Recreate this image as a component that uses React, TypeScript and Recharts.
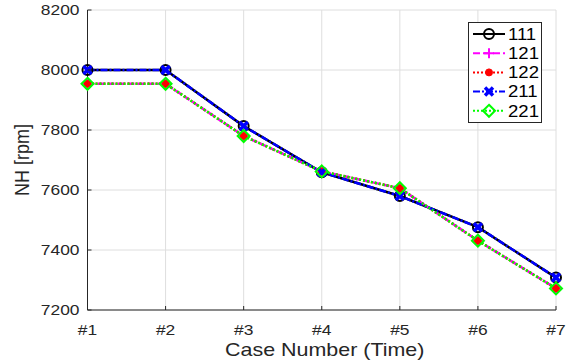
import { LineChart, Line, XAxis, YAxis, CartesianGrid, Label } from "recharts";

const cases = ["#1", "#2", "#3", "#4", "#5", "#6", "#7"];
const nh111 = [8000, 8000, 7813, 7659, 7580, 7476, 7308];
const nh121 = [7954, 7954, 7780, 7662, 7606, 7431, 7272];
const nh122 = [7954, 7954, 7780, 7662, 7606, 7431, 7272];
const nh211 = [8000, 8000, 7813, 7659, 7580, 7476, 7308];
const nh221 = [7954, 7954, 7780, 7662, 7606, 7431, 7272];
const yTicks = [7200, 7400, 7600, 7800, 8000, 8200];
const seriesNames = ["111", "121", "122", "211", "221"];

const data = cases.map((c, i) => ({
  case: c,
  s111: nh111[i],
  s121: nh121[i],
  s122: nh122[i],
  s211: nh211[i],
  s221: nh221[i],
}));

const FONT = "'Liberation Sans', Arial, Helvetica, sans-serif";
const TEXT = "#262626";
const SX = 1.16; // the source figure is stretched a bit horizontally

// line + marker look per series
const STYLE: Record<string, { color: string; dash?: string; marker: string }> = {
  "111": { color: "#000000", marker: "circle" },
  "121": { color: "#ff00ff", dash: "7 3", marker: "plus" },
  "122": { color: "#ff0000", dash: "2 2", marker: "dot" },
  "211": { color: "#0000ff", dash: "7 2 2 2", marker: "cross" },
  "221": { color: "#00ff00", dash: "2 2", marker: "diamond" },
};

function Marker({ kind, color, cx, cy }: { kind: string; color: string; cx: number; cy: number }) {
  if (kind === "circle")
    return <circle cx={cx} cy={cy} r={5} fill="none" stroke={color} strokeWidth={2} />;
  if (kind === "plus")
    return (
      <path d={`M${cx - 5},${cy}H${cx + 5}M${cx},${cy - 5}V${cy + 5}`} stroke={color} strokeWidth={2} />
    );
  if (kind === "dot") return <circle cx={cx} cy={cy} r={3.5} fill={color} stroke={color} />;
  if (kind === "cross")
    return (
      <path
        d={`M${cx - 4},${cy - 4}L${cx + 4},${cy + 4}M${cx - 4},${cy + 4}L${cx + 4},${cy - 4}`}
        stroke={color}
        strokeWidth={3.5}
      />
    );
  return (
    <path
      d={`M${cx},${cy - 6}L${cx + 6},${cy}L${cx},${cy + 6}L${cx - 6},${cy}Z`}
      fill="none"
      stroke={color}
      strokeWidth={2}
    />
  );
}

function YTick(props: any) {
  const { x, y, payload } = props;
  return (
    <g>
      <line x1={x + 8} x2={x + 12} y1={y} y2={y} stroke={TEXT} />
      <text
        transform={`translate(${x},${y}) scale(${SX},1)`}
        textAnchor="end"
        dy="0.36em"
        fontSize={15}
        fontFamily={FONT}
        fill={TEXT}
      >
        {payload.value}
      </text>
    </g>
  );
}

function XTick(props: any) {
  const { x, y, payload } = props;
  return (
    <g>
      <line x1={x} x2={x} y1={y - 25} y2={y - 29} stroke={TEXT} />
      <text
        transform={`translate(${x},${y}) scale(${SX},1)`}
        textAnchor="middle"
        fontSize={15}
        fontFamily={FONT}
        fill={TEXT}
      >
        {payload.value}
      </text>
    </g>
  );
}

function XLabel(props: any) {
  const { x, y, width } = props.viewBox;
  return (
    <text
      transform={`translate(${x + width / 2 + 3},${y + 46}) scale(${SX},1)`}
      textAnchor="middle"
      fontSize={18.5}
      fontFamily={FONT}
      fill={TEXT}
    >
      Case Number (Time)
    </text>
  );
}

function YLabel(props: any) {
  const { y, height } = props.viewBox;
  return (
    <text
      transform={`translate(29,${y + height / 2}) scale(${SX},1) rotate(-90)`}
      textAnchor="middle"
      fontSize={18}
      fontFamily={FONT}
      fill={TEXT}
    >
      NH [rpm]
    </text>
  );
}

function LegendBox() {
  return (
    <div
      style={{
        position: "absolute",
        left: 468,
        top: 22,
        width: 72,
        height: 99,
        border: "1px solid #262626",
        background: "#fff",
      }}
    >
      <svg width={72} height={99}>
        {seriesNames.map((name, i) => {
          const st = STYLE[name];
          const cy = 11 + i * 19.2;
          return (
            <g key={name}>
              <line x1={4} x2={36} y1={cy} y2={cy} stroke={st.color} strokeWidth={2} strokeDasharray={st.dash} />
              <Marker kind={st.marker} color={st.color} cx={20} cy={cy} />
              <text
                transform={`translate(39,${cy}) scale(${SX},1)`}
                dy="0.36em"
                fontSize={16}
                fontFamily={FONT}
                fill="#000"
              >
                {name}
              </text>
            </g>
          );
        })}
      </svg>
    </div>
  );
}

export default function App() {
  return (
    <div style={{ position: "relative", width: 571, height: 364, background: "#fff" }}>
      <style>{`body{margin:0}`}</style>
      <LineChart width={571} height={364} data={data} margin={{ top: 10, right: 15, left: 0, bottom: 0 }}>
        <CartesianGrid stroke="#dedede" />
        <XAxis
          dataKey="case"
          height={54}
          stroke={TEXT}
          tickLine={false}
          tickSize={0}
          tickMargin={25}
          tick={<XTick />}
          interval={0}
        >
          <Label content={<XLabel />} />
        </XAxis>
        <YAxis
          width={87.5}
          domain={[7200, 8200]}
          ticks={yTicks}
          stroke={TEXT}
          tickLine={false}
          tickSize={0}
          tickMargin={8}
          tick={<YTick />}
          allowDataOverflow
        >
          <Label content={<YLabel />} />
        </YAxis>
        {seriesNames.map((name) => {
          const st = STYLE[name];
          return (
            <Line
              key={name}
              dataKey={`s${name}`}
              name={name}
              type="linear"
              stroke={st.color}
              strokeWidth={2.5}
              strokeDasharray={st.dash}
              isAnimationActive={false}
              dot={(p: any) => (
                <Marker key={`${name}-${p.index}`} kind={st.marker} color={st.color} cx={p.cx} cy={p.cy} />
              )}
              activeDot={false}
            />
          );
        })}
      </LineChart>
      <LegendBox />
    </div>
  );
}
